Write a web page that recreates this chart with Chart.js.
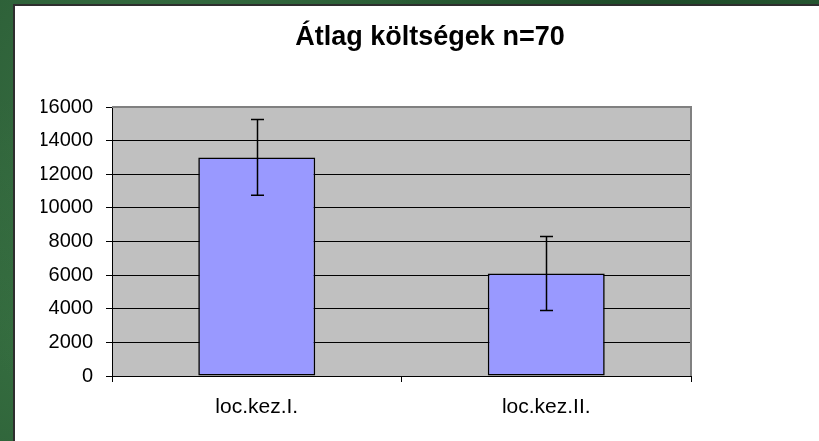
<!DOCTYPE html>
<html><head><meta charset="utf-8">
<script src="https://cdn.jsdelivr.net/npm/chart.js@4.4.1/dist/chart.umd.min.js"></script>
<style>
html,body{margin:0;padding:0;width:819px;height:441px;overflow:hidden;background:#24552f;}
#bg{position:absolute;left:0;top:0;width:819px;height:441px;
 background:
  radial-gradient(circle at 20% 30%, rgba(70,130,80,0.55) 0, rgba(0,0,0,0) 40%),
  radial-gradient(circle at 80% 10%, rgba(20,60,30,0.6) 0, rgba(0,0,0,0) 35%),
  radial-gradient(circle at 5% 80%, rgba(60,120,70,0.6) 0, rgba(0,0,0,0) 30%),
  #2a5c35;}
#panel{position:absolute;left:13px;top:4px;width:806px;height:437px;background:#fff;
 border-left:2px solid #2e2e2e;border-top:2px solid #2e2e2e;box-sizing:border-box;}
#wrap{position:absolute;left:0;top:0;width:819px;height:441px;}
</style>
</head><body>
<div id="bg"></div>
<div id="panel"></div>
<div id="wrap"><canvas id="c" width="819" height="441"></canvas></div>
<script>
const categories = ['loc.kez.I.', 'loc.kez.II.'];
const means = [13000, 6100];
const errPlus = [2250, 2200];
const errMinus = [2250, 2200];
const yTicks = [0, 2000, 4000, 6000, 8000, 10000, 12000, 14000, 16000];
const titleText = 'Átlag költségek n=70';

const FONT = '"Liberation Sans", Arial, sans-serif';

const plotBg = {
  id: 'plotBg',
  beforeDraw(chart) {
    const {ctx, chartArea: a} = chart;
    ctx.save();
    ctx.fillStyle = '#c0c0c0';
    ctx.fillRect(a.left, a.top, a.right - a.left, a.bottom - a.top);
    ctx.restore();
  },
  beforeDatasetsDraw(chart) {
    const {ctx, chartArea: a} = chart;
    ctx.save();
    ctx.strokeStyle = '#808080';
    ctx.lineWidth = 2;
    ctx.beginPath();
    ctx.moveTo(a.left, a.top);
    ctx.lineTo(a.right, a.top);
    ctx.lineTo(a.right, a.bottom);
    ctx.stroke();
    ctx.restore();
  }
};

const errorBars = {
  id: 'errorBars',
  afterDatasetsDraw(chart) {
    const {ctx} = chart;
    const y = chart.scales.y;
    const meta = chart.getDatasetMeta(0);
    ctx.save();
    ctx.strokeStyle = '#000';
    ctx.lineWidth = 1.5;
    meta.data.forEach((bar, i) => {
      const x = Math.round(bar.x) + 0.5;
      const yt = y.getPixelForValue(means[i] + errPlus[i]);
      const yb = y.getPixelForValue(means[i] - errMinus[i]);
      ctx.beginPath();
      ctx.moveTo(x, yt); ctx.lineTo(x, yb);
      ctx.moveTo(x - 6.5, yt); ctx.lineTo(x + 6.5, yt);
      ctx.moveTo(x - 6.5, yb); ctx.lineTo(x + 6.5, yb);
      ctx.stroke();
    });
    ctx.restore();
  }
};

new Chart(document.getElementById('c'), {
  type: 'bar',
  data: {
    labels: categories,
    datasets: [{
      data: means,
      backgroundColor: '#9999ff',
      borderColor: '#000',
      borderWidth: 1.6,
      borderSkipped: false,
      barPercentage: 0.404,
      categoryPercentage: 1.0
    }]
  },
  options: {
    responsive: false,
    animation: false,
    events: [],
    layout: {padding: {left: 41, right: 0, top: 0, bottom: 0}},
    plugins: {
      legend: {display: false},
      tooltip: {enabled: false},
      title: {
        display: true,
        text: titleText,
        color: '#000',
        font: {family: FONT, size: 27, weight: 'bold', lineHeight: 1.2},
        padding: {top: 21, bottom: 53.6}
      }
    },
    scales: {
      x: {
        offset: true,
        grid: {offset: true, drawOnChartArea: false, drawTicks: true, tickLength: 6, color: '#000', lineWidth: 1},
        border: {display: true, color: '#000', width: 1},
        ticks: {color: '#000', font: {family: FONT, size: 21}, padding: 13},
        afterFit: s => { s.height = 65; }
      },
      y: {
        position: 'left',
        min: yTicks[0],
        max: yTicks[yTicks.length - 1],
        afterBuildTicks: s => { s.ticks = yTicks.map(v => ({value: v})); },
        grid: {
          color: c => (c.tick && c.tick.value === yTicks[yTicks.length - 1]) ? '#808080' : '#000',
          tickColor: '#000',
          lineWidth: 1,
          tickLength: 6
        },
        border: {display: true, color: '#000', width: 1},
        ticks: {color: '#000', font: {family: FONT, size: 20}, padding: 13, callback: v => String(v)},
        afterFit: s => { s.width = 71; }
      },
      y2: {
        axis: 'y',
        position: 'right',
        display: true,
        grid: {display: false, drawTicks: false},
        border: {display: false},
        ticks: {display: false},
        afterFit: s => { s.width = 128; }
      }
    }
  },
  plugins: [plotBg, errorBars]
});
</script>
</body></html>
